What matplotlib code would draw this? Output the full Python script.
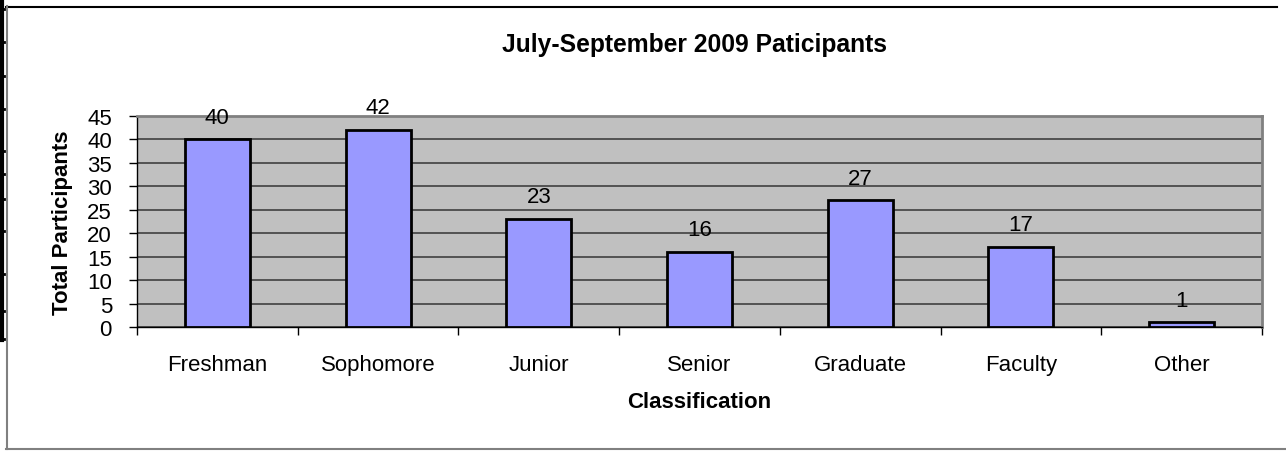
import matplotlib
matplotlib.use('Agg')
import matplotlib.pyplot as plt
from matplotlib.lines import Line2D
import numpy as np

categories = ['Freshman', 'Sophomore', 'Junior', 'Senior', 'Graduate', 'Faculty', 'Other']
participants = [40, 42, 23, 16, 27, 17, 1]
y_ticks = [0, 5, 10, 15, 20, 25, 30, 35, 40, 45]

plt.rcParams['font.family'] = ['Liberation Sans', 'DejaVu Sans']

fig = plt.figure(figsize=(12.86, 4.52), dpi=100)
ax = fig.add_axes([137 / 1286, 1 - 328 / 452, (1262 - 137) / 1286, (328 - 117) / 452])

x = np.arange(len(categories))
ax.bar(x, participants, width=0.405, color='#9999FF', edgecolor='black', linewidth=2, zorder=3)

for xi, v in zip(x, participants):
    ax.annotate(str(v), (xi, v), xytext=(0, 8.5), textcoords='offset points',
                ha='center', va='bottom', fontsize=16)

ax.set_facecolor('#C0C0C0')
ax.set_xlim(-0.5, len(categories) - 0.5)
ax.set_ylim(0, 45)
ax.set_yticks(y_ticks)
ax.grid(axis='y', color='#404040', linewidth=1.2, zorder=1)
ax.set_axisbelow(True)

# category labels in the middle, tick marks between categories
ax.set_xticks(x)
ax.set_xticklabels(categories, fontsize=16)
ax.tick_params(axis='x', which='major', length=0, pad=19.5)
ax.set_xticks(np.arange(-0.5, len(categories)), minor=True)
ax.tick_params(axis='x', which='minor', length=6, width=1, color='black', direction='out')
ax.tick_params(axis='y', length=6, width=1, labelsize=16, pad=12)

for side in ['top', 'right']:
    ax.spines[side].set_color('#808080')
    ax.spines[side].set_linewidth(2)
for side in ['left', 'bottom']:
    ax.spines[side].set_color('black')
    ax.spines[side].set_linewidth(1)

ax.set_xlabel('Classification', fontsize=16, fontweight='bold', labelpad=11.5)
ax.set_ylabel('Total Participants', fontsize=16, fontweight='bold', labelpad=10)
fig.text(0.540, 1 - 45 / 452, 'July-September 2009 Paticipants', ha='center', va='center',
         fontsize=17.7, fontweight='bold')

# outer chart frame
fig.add_artist(Line2D([6 / 1286, 1277 / 1286], [1 - 7.5 / 452, 1 - 7.5 / 452], color='black', lw=1.5))
fig.add_artist(Line2D([6.5 / 1286, 6.5 / 1286], [1 - 7 / 452, 1 - 450 / 452], color='#808080', lw=1.5))
fig.add_artist(Line2D([6 / 1286, 1286 / 1286], [1 - 450 / 452, 1 - 450 / 452], color='#808080', lw=1.5))

# leftover edge of a neighbouring table at the far left
fig.add_artist(Line2D([1.5 / 1286, 1.5 / 1286], [1, 1 - 341 / 452], color='black', lw=3))
for ty in [10, 43, 77, 110, 152, 175, 200, 232, 275, 312, 340]:
    fig.add_artist(Line2D([0, 4 / 1286], [1 - ty / 452, 1 - ty / 452], color='black', lw=2))

fig.savefig('out.png', dpi=100)
